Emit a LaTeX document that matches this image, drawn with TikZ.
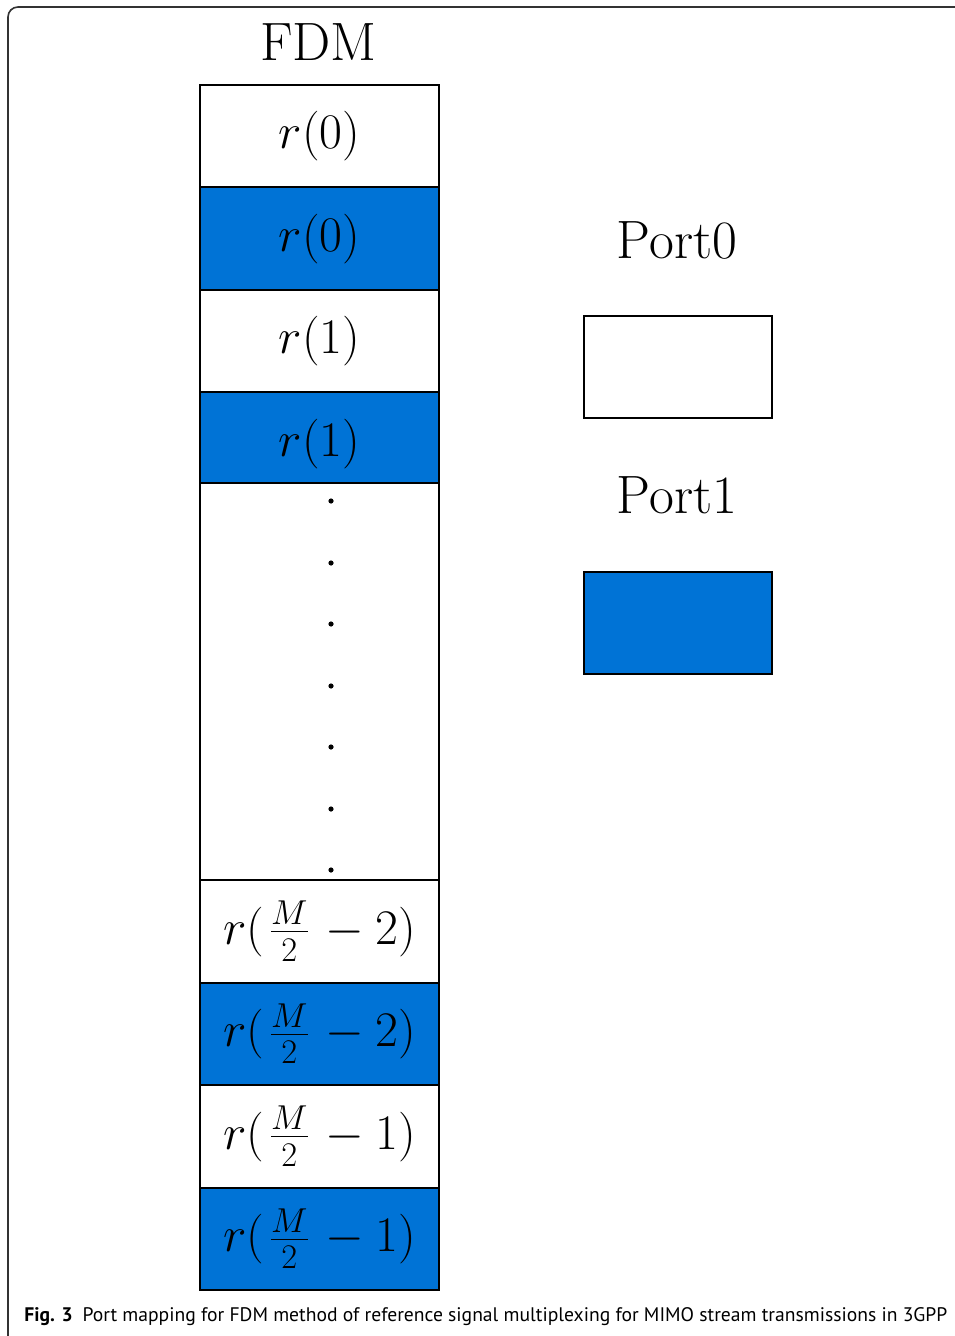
\documentclass[tikz,border=0pt]{standalone}
\usepackage{fontspec}
\newfontfamily\capfont{PT Sans}
\definecolor{portblue}{RGB}{0,115,214}
\newcommand{\halfidx}[1]{r(\mkern1.7mu\frac{M}{2}\mkern1.7mu-#1)}
\begin{document}
\begin{tikzpicture}[x=0.5pt,y=-0.5pt,
  cell/.style={draw=black,line width=1pt,minimum width=119.5pt,minimum height=51.25pt,inner sep=0pt,anchor=north west,
    font=\fontsize{27}{30}\selectfont},
  blue cell/.style={cell,fill=portblue},
  white cell/.style={cell,fill=white},
  legend box/.style={draw=black,line width=1pt,minimum width=94pt,minimum height=51pt,inner sep=0pt,anchor=north west},
  heading/.style={font=\fontsize{27}{30}\selectfont,inner sep=0pt},
  ddot/.style={circle,fill=black,inner sep=0pt,minimum size=2.6pt}]
\useasboundingbox (0,0) rectangle (954,1336);
\fill[white] (0,0) rectangle (954,1336);
% outer frame, only its top-left corner is visible
\draw[line width=0.8pt,color=black!80,rounded corners=5pt] (8,1340) -- (8,7) -- (960,7);

\node[heading] (fdm) at (318.5,42) {FDM};

% signal column
\node[white cell] (c0) at (199,84)   {$r(0)$};
\node[blue cell]  (c1) at (199,186.5) {$r(0)$};
\node[white cell] (c2) at (199,289)  {$r(1)$};
\node[blue cell]  (c3) at (199,391.5) {$r(1)$};
\node[cell,fill=white,minimum height=198.5pt] (gap) at (199,482) {};
\foreach \i/\y in {1/501,2/563,3/624,4/686,5/747,6/809,7/870}
  \node[ddot] (d\i) at (331,\y) {};
\node[white cell] (c4) at (199,879)   {$\halfidx{2}$};
\node[blue cell]  (c5) at (199,981.5) {$\halfidx{2}$};
\node[white cell] (c6) at (199,1084)  {$\halfidx{1}$};
\node[blue cell]  (c7) at (199,1186.5) {$\halfidx{1}$};

% legend
\node[heading] (p0) at (677,240) {Port0};
\node[legend box,fill=white] (b0) at (583,315) {};
\node[heading] (p1) at (677,495) {Port1};
\node[legend box,fill=portblue] (b1) at (583,571) {};

% caption
\node[anchor=west,inner sep=0pt] (cap) at (24,1317)
  {\resizebox{461.5pt}{!}{\capfont\fontsize{12}{14}\selectfont\textbf{Fig. 3}\enspace Port mapping for FDM method of reference signal multiplexing for MIMO stream transmissions in 3GPP}};
\end{tikzpicture}
\end{document}
